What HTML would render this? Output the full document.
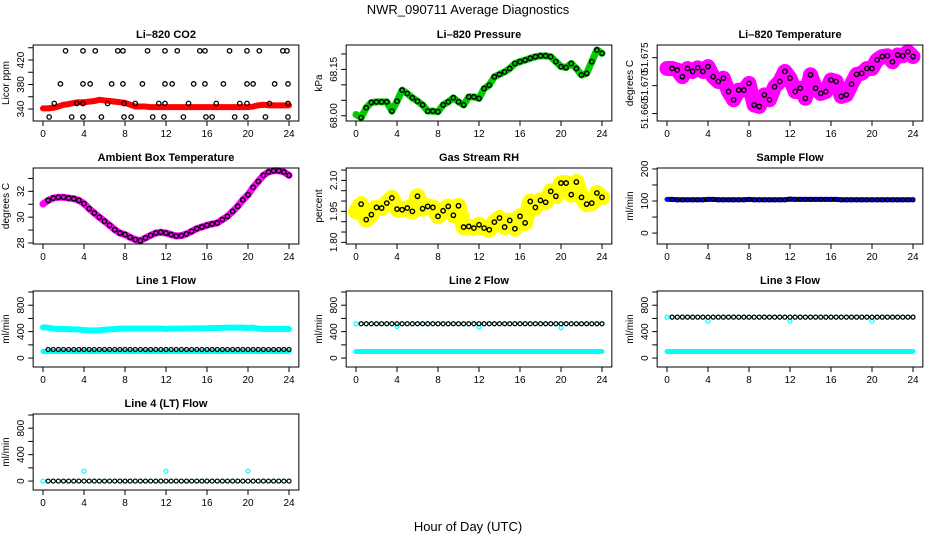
<!DOCTYPE html>
<html><head><meta charset="utf-8"><style>
html,body{margin:0;padding:0;background:#fff;}
svg{display:block;font-family:"Liberation Sans",sans-serif;}
</style></head><body>
<svg id="chart" width="936" height="540" viewBox="0 0 936 540">
<text x="468" y="14" text-anchor="middle" font-size="13">NWR_090711  Average Diagnostics</text>
<text x="468" y="531" text-anchor="middle" font-size="13">Hour of Day (UTC)</text>
</svg>
<script>
const xTicks = [0,4,8,12,16,20,24];
const hours = [0,0.5,1,1.5,2,2.5,3,3.5,4,4.5,5,5.5,6,6.5,7,7.5,8,8.5,9,9.5,10,10.5,11,11.5,12,12.5,13,13.5,14,14.5,15,15.5,16,16.5,17,17.5,18,18.5,19,19.5,20,20.5,21,21.5,22,22.5,23,23.5,24];
// CO2
const co2Red = [341,341,342,344,347,348,350,351,351,352,353,355,354,353,352,351,350,347,344,344,344,343,343,343,343,343,343,343,343,343,343,343,343,343,343,343,343,343,343,343,343,344,346,347,346,346,346,346,346];
const co2OutHours = [2.2,3.9,5.1,7.3,7.8,10.2,11.9,13.1,15.3,15.8,18.2,19.9,21.1,23.4,23.8, 1.7,3.9,4.6,6.7,7.8,9.7,11.9,12.6,14.7,15.8,17.6,19.9,20.5,22.6,23.9, 1.1,3.3,3.9,6.3,7.9,9.0,11.3,11.9,14.2,16.9,19.2,19.9,22.1,23.9, 0.6,2.8,3.9,5.7,7.9,8.6,10.7,11.8,13.7,15.9,16.5,18.7,19.8,21.7,23.9];
const co2OutVals = [435,435,435,435,435,435,435,435,435,435,435,435,435,435,435, 381,381,381,381,381,381,381,381,381,381,381,381,381,381,381, 349,349,349,349,349,349,349,349,349,349,349,349,349,349, 327,327,327,327,327,327,327,327,327,327,327,327,327,327,327];
// Pressure
const pressure = [68.004,67.994,68.026,68.043,68.045,68.045,68.045,68.015,68.047,68.083,68.072,68.058,68.047,68.035,68.015,68.015,68.013,68.035,68.045,68.058,68.045,68.035,68.061,68.061,68.056,68.088,68.099,68.126,68.134,68.142,68.153,68.169,68.175,68.180,68.186,68.191,68.194,68.194,68.191,68.175,68.159,68.156,68.169,68.153,68.132,68.137,68.175,68.213,68.202];
// Li-820 temperature
const licorTemp = [51.6721,51.6721,51.6717,51.6699,51.6721,51.6713,51.6723,51.6713,51.6726,51.6699,51.6686,51.6695,51.6659,51.6637,51.6663,51.6663,51.6681,51.6623,51.6619,51.6650,51.6637,51.6672,51.6686,51.6713,51.6695,51.6659,51.6668,51.6641,51.6704,51.6668,51.6654,51.6659,51.6690,51.6686,51.6646,51.6650,51.6679,51.6705,51.6708,51.6721,51.6721,51.6744,51.6753,51.6755,51.6739,51.6757,51.6755,51.6766,51.6753];
const tempTickVals = [51.660,51.6675,51.675];
const tempTickText = ['51.660','51.670','51.675'];
// Ambient
const ambient = [31.02,31.30,31.48,31.54,31.54,31.48,31.43,31.30,31.05,30.66,30.32,29.99,29.68,29.37,29.03,28.77,28.65,28.44,28.26,28.18,28.39,28.59,28.77,28.83,28.77,28.65,28.54,28.57,28.70,28.90,29.11,29.24,29.37,29.47,29.55,29.81,30.06,30.45,30.84,31.35,31.74,32.31,32.77,33.24,33.50,33.60,33.60,33.50,33.24];
// RH
const rh = [1.95,1.985,1.91,1.934,1.969,1.966,1.99,2.015,1.961,1.958,1.966,1.95,2.023,1.963,1.974,1.969,1.926,1.953,1.974,1.931,1.977,1.874,1.877,1.869,1.885,1.869,1.861,1.898,1.918,1.874,1.906,1.866,1.926,1.894,1.998,1.969,2.003,1.994,2.047,2.023,2.087,2.087,2.031,2.092,2.018,1.985,1.990,2.039,2.018];
// Sample flow
const sampleFlow = [105,105,104,104,104,104,104,104,105,105,104,104,104,104,104,104,105,104,104,104,104,104,104,104,106,105,105,105,105,105,105,105,105,105,104,104,104,104,104,104,104,104,104,104,104,104,104,104,104];
// Line flows
const line1High = [465,460,445,440,440,438,435,432,425,420,420,422,428,435,440,445,445,445,445,445,445,445,445,445,440,445,445,445,448,450,450,450,452,455,455,458,460,460,460,460,455,460,445,440,440,440,440,440,440];
const line1Black = 130;
const line2Main = [520,520,520,520,520,520,520,520,480,520,520,520,520,520,520,520,520,520,520,520,520,520,520,520,470,520,520,520,520,520,520,520,520,520,520,520,520,520,520,520,460,520,520,520,520,520,520,520,520];
const line3Main = [620,620,620,620,620,620,620,620,560,620,620,620,620,620,620,620,620,620,620,620,620,620,620,620,560,620,620,620,620,620,620,620,620,620,620,620,620,620,620,620,560,620,620,620,620,620,620,620,620];
const line4Main = [0,0,0,0,0,0,0,0,150,0,0,0,0,0,0,0,0,0,0,0,0,0,0,0,150,0,0,0,0,0,0,0,0,0,0,0,0,0,0,0,150,0,0,0,0,0,0,0,0];
const lowCyan = 100;

const NS="http://www.w3.org/2000/svg";
const svg=document.getElementById('chart');
const colX0=[43,356,667], rowTop=[45,168,291,414], H=76, PXH=10.25;
function el(tag,attrs,parent){const e=document.createElementNS(NS,tag);for(const k in attrs)e.setAttribute(k,attrs[k]);(parent||svg).appendChild(e);return e;}

function panel(o){
  const g=el('g',{});
  
  
  const top=rowTop[o.row], bot=top+H, x0=colX0[o.col];
  const X=h=>x0+h*PXH;
  const Y=v=>top+(o.ymax-v)/(o.ymax-o.ymin)*H;
  o.X=X;o.Y=Y;o.g=g;
  const left=X(-0.96), right=X(24.96);
  const t=el('text',{x:(left+right)/2,y:top-7,'text-anchor':'middle','font-size':11,'font-weight':'bold'},g);
  t.textContent=o.title;
  
  
  const yl=el('text',{x:0,y:0,'text-anchor':'middle','font-size':10,transform:`translate(${left-24},${(top+bot)/2}) rotate(-90)`},g);
  yl.textContent=o.ylab;
  
  
  el('line',{x1:X(0),x2:X(24),y1:bot,y2:bot,stroke:'#000'},g);
  xTicks.forEach(v=>{
    el('line',{x1:X(v),x2:X(v),y1:bot,y2:bot+5,stroke:'#000'},g);
    const tl=el('text',{x:X(v),y:bot+16,'text-anchor':'middle','font-size':10},g);
    tl.textContent=v;
    
    
  });
  o.yticks.forEach(v=>{el('line',{x1:left-5,x2:left,y1:Y(v),y2:Y(v),stroke:'#000'},g);});
  o.ylabels.forEach((v,i)=>{
    const tl=el('text',{x:0,y:0,'text-anchor':'middle','font-size':10,transform:`translate(${left-9},${Y(v)}) rotate(-90)`},g);
    tl.textContent=o.ltext?o.ltext[i]:(o.fmt?o.fmt(v):v);
    
    
  });
  const clip=el('g',{},g);
  o.plot=clip;
  setTimeout(()=>el('rect',{x:left,y:top,width:right-left,height:H,fill:'none',stroke:'#000'},g),0);
  return o;
}
function band(o,vals,color,w){
  const p=el('polyline',{points:hours.map((h,i)=>o.X(h)+','+o.Y(vals[i])).join(' '),fill:'none',stroke:color,'stroke-width':w,'stroke-linejoin':'round','stroke-linecap':'round'},o.plot);
  
  
}
function pts(o,hs,vals,color,r,sw){
  hs.forEach((h,i)=>{
    const c=el('circle',{cx:o.X(h),cy:o.Y(vals[i]),r:r||2.2,fill:'none',stroke:color,'stroke-width':sw||1.4},o.plot);
    
    
  });
}
const sub=hours.slice(1);
const constArr=(v)=>hours.map(()=>v);

let p=panel({name:'panel-co2',col:0,row:0,title:'Li\u2013820 CO2',ylab:'Licor ppm',ymin:320.4,ymax:444.5,yticks:[340,360,380,400,420,440],ylabels:[340,380,420]});
band(p,co2Red,'#ff0000',6);
pts(p,co2OutHours,co2OutVals,'#000',2.2,1.3);

p=panel({name:'panel-pressure',col:1,row:0,title:'Li\u2013820 Pressure',ylab:'kPa',ymin:67.983,ymax:68.229,yticks:[68.0,68.05,68.1,68.15,68.2],ylabels:[68.0,68.15],fmt:v=>v.toFixed(2)});
band(p,pressure,'#00cc00',7);
pts(p,sub,pressure.slice(1),'#000');

p=panel({name:'panel-licor-temperature',col:2,row:0,title:'Li\u2013820 Temperature',ylab:'degrees C',ymin:51.658,ymax:51.6784,yticks:tempTickVals,ylabels:tempTickVals,ltext:tempTickText});
band(p,licorTemp,'#ff00ff',15);
pts(p,sub,licorTemp.slice(1),'#000');

p=panel({name:'panel-ambient-temperature',col:0,row:1,title:'Ambient Box Temperature',ylab:'degrees C',ymin:27.92,ymax:33.81,yticks:[28,29,30,31,32,33],ylabels:[28,30,32]});
band(p,ambient,'#ff00ff',7);
pts(p,sub,ambient.slice(1),'#000');

p=panel({name:'panel-rh',col:1,row:1,title:'Gas Stream RH',ylab:'percent',ymin:1.792,ymax:2.16,yticks:[1.80,1.85,1.90,1.95,2.00,2.05,2.10,2.15],ylabels:[1.80,1.95,2.10],fmt:v=>v.toFixed(2)});
band(p,rh,'#ffff00',16);
pts(p,sub,rh.slice(1),'#000');

p=panel({name:'panel-sample-flow',col:2,row:1,title:'Sample Flow',ylab:'ml/min',ymin:-34,ymax:203,yticks:[0,50,100,150,200],ylabels:[0,100,200]});
band(p,sampleFlow,'#0000ff',5);
pts(p,sub,sampleFlow.slice(1),'#000',2,1.2);

const flowCfg={ymin:-135,ymax:1015,yticks:[0,200,400,600,800,1000],ylabels:[0,400,800],ylab:'ml/min'};
p=panel(Object.assign({name:'panel-line1-flow',col:0,row:2,title:'Line 1 Flow'},flowCfg));
band(p,line1High,'#00ffff',6);
band(p,constArr(lowCyan),'#00ffff',5);
pts(p,sub,constArr(line1Black).slice(1),'#000',2,1.2);

p=panel(Object.assign({name:'panel-line2-flow',col:1,row:2,title:'Line 2 Flow'},flowCfg));
band(p,constArr(lowCyan),'#00ffff',5);
pts(p,hours,line2Main,'#00ffff',2,1.2);
pts(p,sub,constArr(520).slice(1),'#000',2,1.2);

p=panel(Object.assign({name:'panel-line3-flow',col:2,row:2,title:'Line 3 Flow'},flowCfg));
band(p,constArr(lowCyan),'#00ffff',5);
pts(p,hours,line3Main,'#00ffff',2,1.2);
pts(p,sub,constArr(620).slice(1),'#000',2,1.2);

p=panel(Object.assign({name:'panel-line4-flow',col:0,row:3,title:'Line 4 (LT) Flow'},flowCfg));
pts(p,hours,line4Main,'#00ffff',2,1.2);
pts(p,sub,constArr(0).slice(1),'#000',2,1.2);
</script>
</body></html>
